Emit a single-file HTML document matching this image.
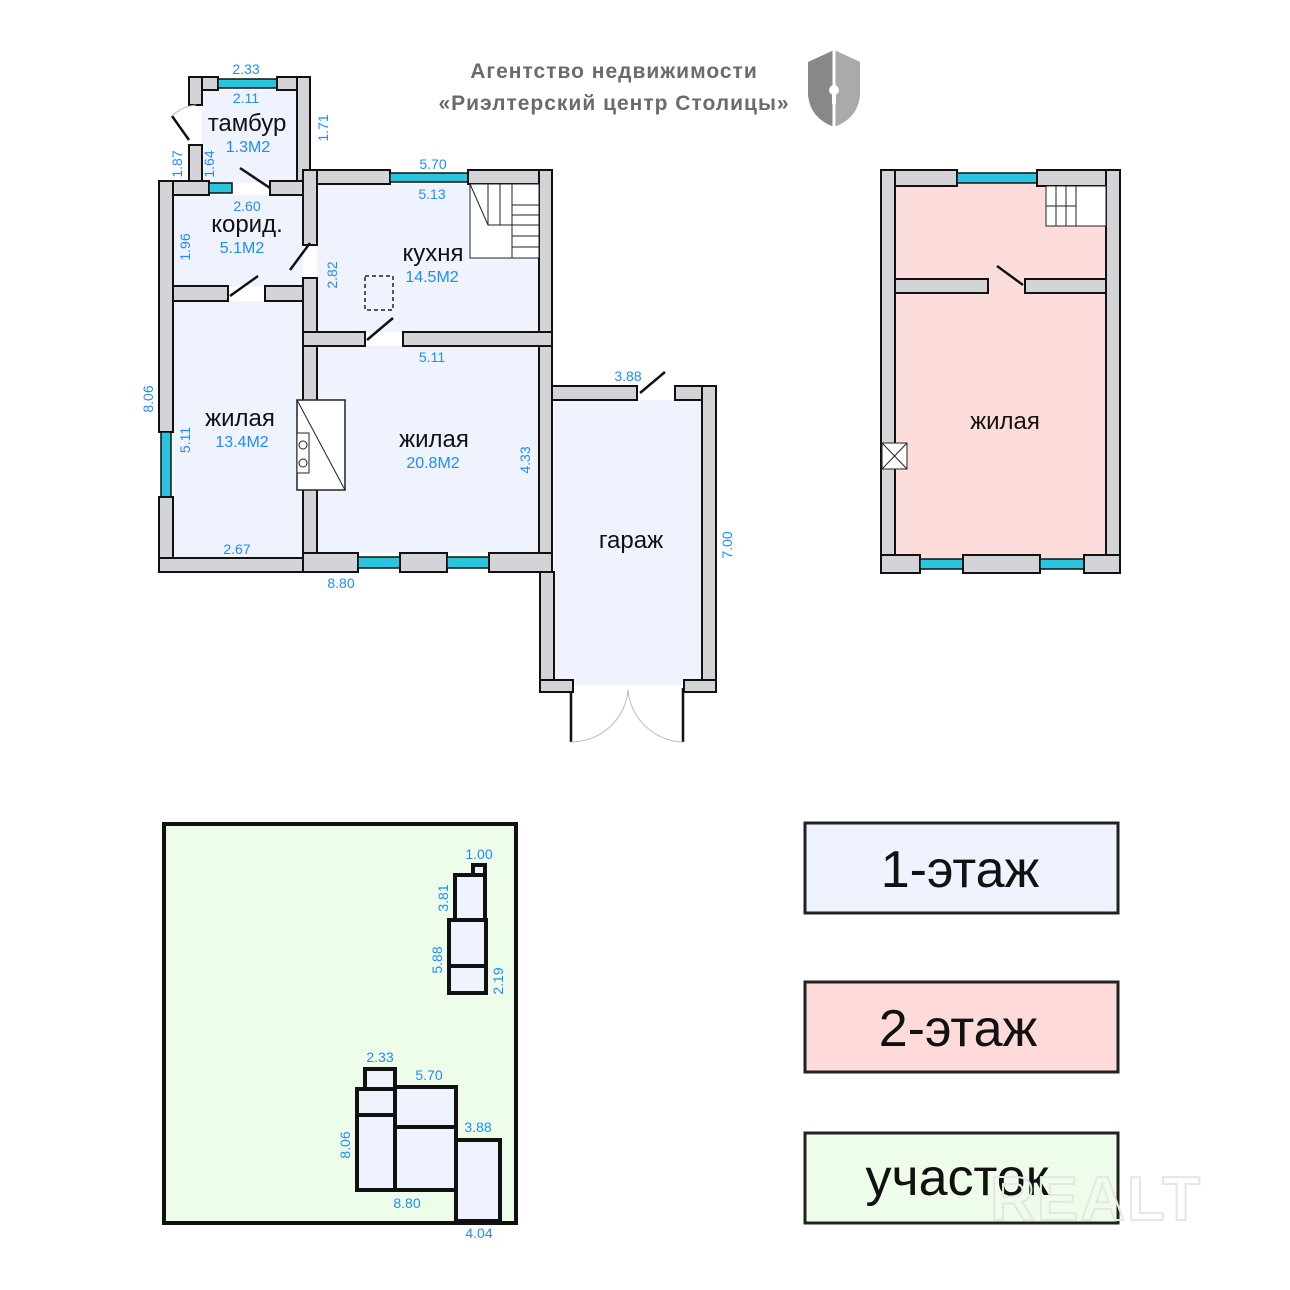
<!DOCTYPE html>
<html><head><meta charset="utf-8"><style>
html,body{margin:0;padding:0;background:#fff}
svg{display:block}
text{font-family:"Liberation Sans",sans-serif}
.d{fill:#1e8cff;font-size:14px}
.n{fill:#111;font-size:24px}
.a{fill:#1e8cff;font-size:16px}
.w{fill:#d4d4d8;stroke:#111;stroke-width:2}
.win{fill:#2ac4df;stroke:#111;stroke-width:1.5}
.r{fill:#eef3fd}
</style></head><body>
<svg width="1290" height="1290" viewBox="0 0 1290 1290" xmlns="http://www.w3.org/2000/svg">
<!-- header -->
<text x="614" y="78" text-anchor="middle" font-size="21" font-weight="bold" fill="#6b6b6b" letter-spacing="1">Агентство недвижимости</text>
<text x="614" y="110" text-anchor="middle" font-size="21" font-weight="bold" fill="#6b6b6b" letter-spacing="1">«Риэлтерский центр Столицы»</text>
<path d="M808 62 L834 50 L860 62 L860 95 Q858 118 834 127 Q810 118 808 95 Z" fill="#888"/>
<path d="M834 50 L860 62 L860 95 Q858 118 834 127 Z" fill="#aaa"/>
<line x1="834" y1="48" x2="834" y2="128" stroke="#fff" stroke-width="3"/>
<circle cx="834" cy="90" r="5" fill="#fff"/><rect x="832" y="90" width="4" height="14" fill="#fff"/>

<!-- FLOOR 1 rooms -->
<rect class="r" x="202" y="90" width="95" height="93"/>
<rect class="r" x="173" y="195" width="130" height="91"/>
<rect class="r" x="173" y="301" width="130" height="257"/>
<rect class="r" x="317" y="184" width="222" height="148"/>
<rect class="r" x="317" y="346" width="222" height="207"/>
<rect class="r" x="554" y="400" width="148" height="285"/>
<rect class="w" x="189" y="77" width="29" height="13"/>
<rect class="win" x="218" y="79" width="59" height="9"/>
<rect class="w" x="277" y="77" width="33" height="13"/>
<rect class="w" x="189" y="77" width="13" height="28"/>
<rect class="w" x="189" y="145" width="13" height="38"/>
<rect class="w" x="297" y="77" width="13" height="106"/>
<rect class="w" x="159" y="181" width="50" height="14"/>
<rect class="win" x="209" y="183" width="23" height="10"/>
<rect class="w" x="270" y="181" width="33" height="14"/>
<rect class="w" x="159" y="181" width="14" height="251"/>
<rect class="win" x="161" y="432" width="10" height="65"/>
<rect class="w" x="159" y="497" width="14" height="75"/>
<rect class="w" x="159" y="558" width="144" height="14"/>
<rect class="w" x="303" y="170" width="87" height="14"/>
<rect class="win" x="390" y="173" width="78" height="9"/>
<rect class="w" x="468" y="170" width="84" height="14"/>
<rect class="w" x="303" y="170" width="14" height="75"/>
<rect class="w" x="303" y="278" width="14" height="294"/>
<rect class="w" x="539" y="170" width="13" height="402"/>
<g stroke="#222" stroke-width="1" fill="#fff">
<rect x="470" y="184" width="69" height="74"/>
<path d="M470 184 L488 225 L512 225 L512 258" fill="none"/>
<line x1="488" y1="184" x2="488" y2="225"/><line x1="500" y1="184" x2="500" y2="225"/><line x1="512" y1="184" x2="512" y2="225"/>
<line x1="512" y1="205" x2="539" y2="205"/><line x1="512" y1="215" x2="539" y2="215"/><line x1="512" y1="225" x2="539" y2="225"/><line x1="512" y1="236" x2="539" y2="236"/><line x1="512" y1="247" x2="539" y2="247"/>
</g>
<rect class="w" x="173" y="286" width="55" height="15"/>
<rect class="w" x="265" y="286" width="38" height="15"/>
<rect class="w" x="303" y="332" width="62" height="14"/>
<rect class="w" x="403" y="332" width="149" height="14"/>
<rect class="w" x="303" y="553" width="55" height="19"/>
<rect class="win" x="358" y="557" width="42" height="11"/>
<rect class="w" x="400" y="553" width="47" height="19"/>
<rect class="win" x="447" y="557" width="42" height="11"/>
<rect class="w" x="489" y="553" width="63" height="19"/>
<rect x="297" y="400" width="48" height="90" fill="#fff" stroke="#222" stroke-width="1.5"/>
<line x1="297" y1="400" x2="345" y2="490" stroke="#222"/>
<rect x="297" y="433" width="12" height="40" fill="#fff" stroke="#222"/>
<circle cx="303" cy="445" r="4" fill="none" stroke="#222"/><circle cx="303" cy="463" r="4" fill="none" stroke="#222"/>
<rect x="365" y="276" width="28" height="34" fill="none" stroke="#222" stroke-width="1.5" stroke-dasharray="4 3"/>
<g stroke="#111" stroke-width="2.5">
<line x1="189" y1="140" x2="172" y2="116"/>
<line x1="270" y1="188" x2="240" y2="168"/>
<line x1="310" y1="243" x2="290" y2="270"/>
<line x1="230" y1="296" x2="258" y2="276"/>
<line x1="367" y1="340" x2="393" y2="318"/>
<line x1="640" y1="393" x2="665" y2="372"/>
<line x1="571" y1="688" x2="571" y2="742"/>
<line x1="683" y1="688" x2="683" y2="742"/>
</g>
<g fill="none" stroke="#bbb" stroke-width="1">
<path d="M172 116 A40 40 0 0 1 196 105"/>
<path d="M571 742 A57 57 0 0 0 628 690"/><path d="M683 742 A57 57 0 0 1 628 690"/>
</g>
<rect class="w" x="552" y="386" width="85" height="14"/>
<rect class="w" x="675" y="386" width="41" height="14"/>
<rect class="w" x="702" y="386" width="14" height="306"/>
<rect class="w" x="540" y="572" width="14" height="120"/>
<rect class="w" x="540" y="680" width="33" height="12"/>
<rect class="w" x="684" y="680" width="32" height="12"/>
<text class="n" x="247" y="131" text-anchor="middle">тамбур</text>
<text class="a" x="248" y="152" text-anchor="middle">1.3M2</text>
<text class="n" x="247" y="232" text-anchor="middle">корид.</text>
<text class="a" x="242" y="253" text-anchor="middle">5.1M2</text>
<text class="n" x="433" y="261" text-anchor="middle">кухня</text>
<text class="a" x="432" y="282" text-anchor="middle">14.5M2</text>
<text class="n" x="240" y="426" text-anchor="middle">жилая</text>
<text class="a" x="242" y="447" text-anchor="middle">13.4M2</text>
<text class="n" x="434" y="447" text-anchor="middle">жилая</text>
<text class="a" x="433" y="468" text-anchor="middle">20.8M2</text>
<text class="n" x="631" y="548" text-anchor="middle">гараж</text>
<text class="d" x="246" y="74" text-anchor="middle">2.33</text>
<text class="d" x="246" y="103" text-anchor="middle">2.11</text>
<text class="d" x="247" y="211" text-anchor="middle">2.60</text>
<text class="d" x="433" y="169" text-anchor="middle">5.70</text>
<text class="d" x="432" y="199" text-anchor="middle">5.13</text>
<text class="d" x="432" y="362" text-anchor="middle">5.11</text>
<text class="d" x="628" y="381" text-anchor="middle">3.88</text>
<text class="d" x="237" y="554" text-anchor="middle">2.67</text>
<text class="d" x="341" y="588" text-anchor="middle">8.80</text>
<g class="d">
<text transform="translate(328,128) rotate(-90)" text-anchor="middle">1.71</text>
<text transform="translate(182,164) rotate(-90)" text-anchor="middle">1.87</text>
<text transform="translate(214,164) rotate(-90)" text-anchor="middle">1.64</text>
<text transform="translate(190,247) rotate(-90)" text-anchor="middle">1.96</text>
<text transform="translate(337,275) rotate(-90)" text-anchor="middle">2.82</text>
<text transform="translate(153,399) rotate(-90)" text-anchor="middle">8.06</text>
<text transform="translate(190,440) rotate(-90)" text-anchor="middle">5.11</text>
<text transform="translate(530,460) rotate(-90)" text-anchor="middle">4.33</text>
<text transform="translate(732,545) rotate(-90)" text-anchor="middle">7.00</text>
<text transform="translate(913,233) rotate(-90)" text-anchor="middle">1.96</text>
<text transform="translate(1100,417) rotate(-90)" text-anchor="middle">5.19</text>
</g>

<!-- FLOOR 2 -->
<rect x="895" y="184" width="211" height="375" fill="#fddcdc"/>
<rect class="w" x="881" y="170" width="76" height="16"/>
<rect class="win" x="957" y="173" width="80" height="10"/>
<rect class="w" x="1037" y="170" width="83" height="16"/>
<rect class="w" x="881" y="170" width="14" height="403"/>
<rect class="w" x="1106" y="170" width="14" height="403"/>
<rect class="w" x="895" y="279" width="93" height="14"/>
<rect class="w" x="1025" y="279" width="81" height="14"/>
<rect class="w" x="881" y="555" width="39" height="18"/>
<rect class="win" x="920" y="559" width="43" height="10"/>
<rect class="w" x="963" y="555" width="77" height="18"/>
<rect class="win" x="1040" y="559" width="44" height="10"/>
<rect class="w" x="1084" y="555" width="36" height="18"/>
<g stroke="#222" stroke-width="1" fill="#fff">
<rect x="1046" y="186" width="60" height="40"/>
<rect x="1046" y="186" width="30" height="40" fill="none"/>
<line x1="1056" y1="186" x2="1056" y2="226"/><line x1="1066" y1="186" x2="1066" y2="226"/>
<line x1="1046" y1="206" x2="1076" y2="206"/>
<rect x="882" y="443" width="25" height="26"/>
<line x1="882" y1="443" x2="907" y2="469"/><line x1="907" y1="443" x2="882" y2="469"/>
</g>
<line x1="1023" y1="285" x2="997" y2="266" stroke="#111" stroke-width="2.5"/>
<text class="n" x="1005" y="429" text-anchor="middle">жилая</text>

<!-- SITE -->
<rect x="164" y="824" width="352" height="399" fill="#eefdea" stroke="#111" stroke-width="4"/>
<g fill="#eef3fd" stroke="#111" stroke-width="4">
<rect x="473" y="865" width="12" height="12"/>
<rect x="455" y="875" width="30" height="45"/>
<rect x="449" y="920" width="37" height="46"/>
<rect x="449" y="966" width="37" height="27"/>
<rect x="365" y="1069" width="30" height="20"/>
<rect x="357" y="1089" width="38" height="26"/>
<rect x="357" y="1115" width="38" height="75"/>
<rect x="395" y="1087" width="61" height="40"/>
<rect x="395" y="1127" width="61" height="63"/>
<rect x="456" y="1140" width="44" height="81"/>
</g>
<text class="d" x="479" y="859" text-anchor="middle">1.00</text>
<text class="d" x="380" y="1062" text-anchor="middle">2.33</text>
<text class="d" x="429" y="1080" text-anchor="middle">5.70</text>
<text class="d" x="478" y="1132" text-anchor="middle">3.88</text>
<text class="d" x="407" y="1208" text-anchor="middle">8.80</text>
<text class="d" x="479" y="1238" text-anchor="middle">4.04</text>
<g class="d">
<text transform="translate(448,898) rotate(-90)" text-anchor="middle">3.81</text>
<text transform="translate(442,960) rotate(-90)" text-anchor="middle">5.88</text>
<text transform="translate(503,981) rotate(-90)" text-anchor="middle">2.19</text>
<text transform="translate(350,1145) rotate(-90)" text-anchor="middle">8.06</text>
</g>

<!-- LEGEND -->
<rect x="805" y="823" width="313" height="90" fill="#eef3fe" stroke="#222" stroke-width="3"/>
<text x="960" y="887" text-anchor="middle" font-size="52" fill="#111">1-этаж</text>
<rect x="805" y="982" width="313" height="90" fill="#fedadb" stroke="#222" stroke-width="3"/>
<text x="958" y="1046" text-anchor="middle" font-size="52" fill="#111">2-этаж</text>
<rect x="805" y="1133" width="313" height="90" fill="#edfdea" stroke="#222" stroke-width="3"/>
<text x="957" y="1195" text-anchor="middle" font-size="52" fill="#111">участок</text>
<text x="1096" y="1220" text-anchor="middle" font-size="62" font-weight="bold" fill="none" stroke="#e6e6e6" stroke-width="2" letter-spacing="2">REALT</text>
</svg>
</body></html>
